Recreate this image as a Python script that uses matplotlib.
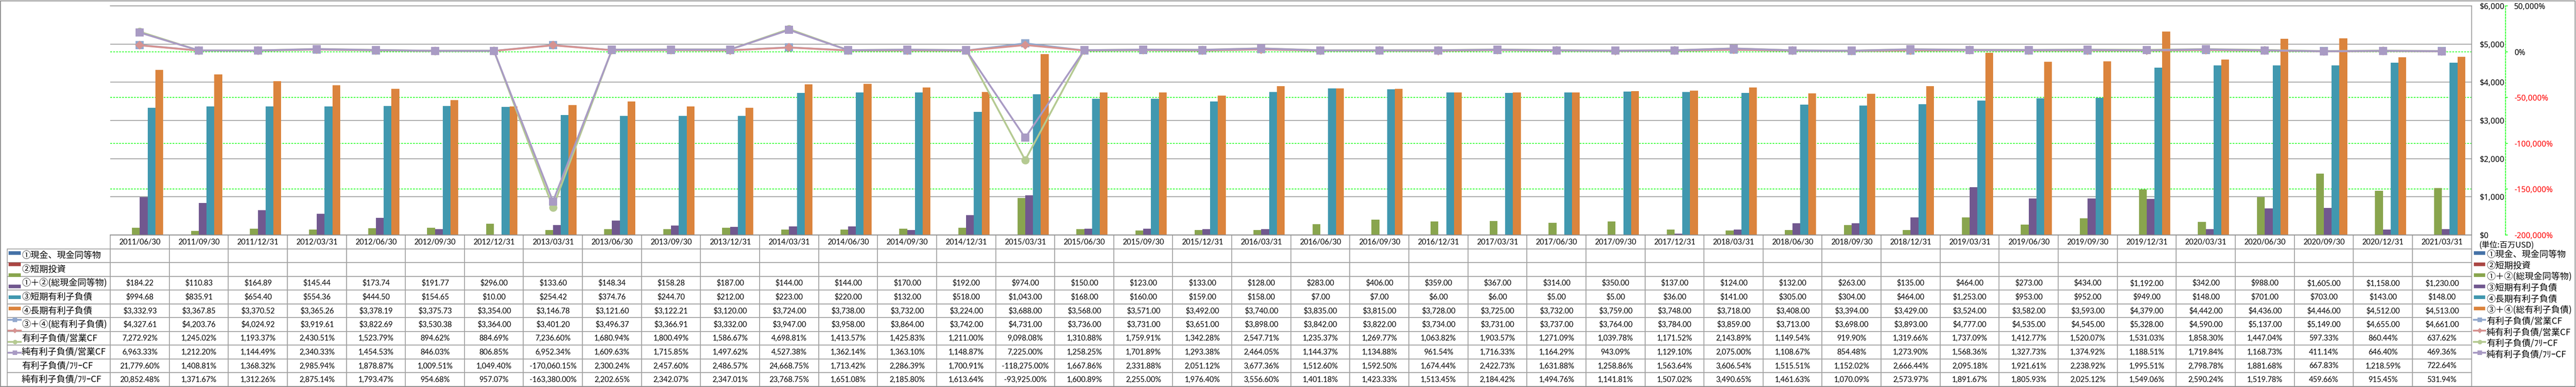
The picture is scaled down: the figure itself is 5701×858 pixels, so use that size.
import numpy as np
import matplotlib.pyplot as plt
from matplotlib.lines import Line2D
from matplotlib.patches import Rectangle
from matplotlib.ticker import FixedLocator, FuncFormatter

plt.rcParams['font.family'] = ['Lato', 'Noto Sans CJK JP', 'DejaVu Sans']

# quarter end dates (categories)
dates = ['2011/06/30', '2011/09/30', '2011/12/31', '2012/03/31', '2012/06/30', '2012/09/30',
         '2012/12/31', '2013/03/31', '2013/06/30', '2013/09/30', '2013/12/31', '2014/03/31',
         '2014/06/30', '2014/09/30', '2014/12/31', '2015/03/31', '2015/06/30', '2015/09/30',
         '2015/12/31', '2016/03/31', '2016/06/30', '2016/09/30', '2016/12/31', '2017/03/31',
         '2017/06/30', '2017/09/30', '2017/12/31', '2018/03/31', '2018/06/30', '2018/09/30',
         '2018/12/31', '2019/03/31', '2019/06/30', '2019/09/30', '2019/12/31', '2020/03/31',
         '2020/06/30', '2020/09/30', '2020/12/31', '2021/03/31']

names = ['①現金、現金同等物', '②短期投資', '①＋②(総現金同等物)', '③短期有利子負債',
         '④長期有利子負債', '③＋④(総有利子負債)', '有利子負債/営業CF', '純有利子負債/営業CF',
         '有利子負債/ﾌﾘｰCF', '純有利子負債/ﾌﾘｰCF']

# bars, million USD (series 1 and 2 have no values)
cash = [None] * 40
short_inv = [None] * 40
total_cash = [184.22, 110.83, 164.89, 145.44, 173.74, 191.77, 296.00, 133.60, 148.34, 158.28,
              187.00, 144.00, 144.00, 170.00, 192.00, 974.00, 150.00, 123.00, 133.00, 128.00,
              283.00, 406.00, 359.00, 367.00, 314.00, 350.00, 137.00, 124.00, 132.00, 263.00,
              135.00, 464.00, 273.00, 434.00, 1192.00, 342.00, 988.00, 1605.00, 1158.00, 1230.00]
short_debt = [994.68, 835.91, 654.40, 554.36, 444.50, 154.65, 10.00, 254.42, 374.76, 244.70,
              212.00, 223.00, 220.00, 132.00, 518.00, 1043.00, 168.00, 160.00, 159.00, 158.00,
              7.00, 7.00, 6.00, 6.00, 5.00, 5.00, 36.00, 141.00, 305.00, 304.00,
              464.00, 1253.00, 953.00, 952.00, 949.00, 148.00, 701.00, 703.00, 143.00, 148.00]
long_debt = [3332.93, 3367.85, 3370.52, 3365.26, 3378.19, 3375.73, 3354.00, 3146.78, 3121.60, 3122.21,
             3120.00, 3724.00, 3738.00, 3732.00, 3224.00, 3688.00, 3568.00, 3571.00, 3492.00, 3740.00,
             3835.00, 3815.00, 3728.00, 3725.00, 3732.00, 3759.00, 3748.00, 3718.00, 3408.00, 3394.00,
             3429.00, 3524.00, 3582.00, 3593.00, 4379.00, 4442.00, 4436.00, 4446.00, 4512.00, 4513.00]
total_debt = [4327.61, 4203.76, 4024.92, 3919.61, 3822.69, 3530.38, 3364.00, 3401.20, 3496.37, 3366.91,
              3332.00, 3947.00, 3958.00, 3864.00, 3742.00, 4731.00, 3736.00, 3731.00, 3651.00, 3898.00,
              3842.00, 3822.00, 3734.00, 3731.00, 3737.00, 3764.00, 3784.00, 3859.00, 3713.00, 3698.00,
              3893.00, 4777.00, 4535.00, 4545.00, 5328.00, 4590.00, 5137.00, 5149.00, 4655.00, 4661.00]

# lines, percent
debt_ocf = [7272.92, 1245.02, 1193.37, 2430.51, 1523.79, 894.62, 884.69, 7236.60, 1680.94, 1800.49,
            1586.67, 4698.81, 1413.57, 1425.83, 1211.00, 9098.08, 1310.88, 1759.91, 1342.28, 2547.71,
            1235.37, 1269.77, 1063.82, 1903.57, 1271.09, 1039.78, 1171.52, 2143.89, 1149.54, 919.90,
            1319.66, 1737.09, 1412.77, 1520.07, 1531.03, 1858.30, 1447.04, 597.33, 860.44, 637.62]
net_ocf = [6963.33, 1212.20, 1144.49, 2340.33, 1454.53, 846.03, 806.85, 6952.34, 1609.63, 1715.85,
           1497.62, 4527.38, 1362.14, 1363.10, 1148.87, 7225.00, 1258.25, 1701.89, 1293.38, 2464.05,
           1144.37, 1134.88, 961.54, 1716.33, 1164.29, 943.09, 1129.10, 2075.00, 1108.67, 854.48,
           1273.90, 1568.36, 1327.73, 1374.92, 1188.51, 1719.84, 1168.73, 411.14, 646.40, 469.36]
debt_fcf = [21779.60, 1408.81, 1368.32, 2985.94, 1878.87, 1009.51, 1049.40, -170060.15, 2300.24, 2457.60,
            2486.57, 24668.75, 1713.42, 2286.39, 1700.91, -118275.00, 1667.86, 2331.88, 2051.12, 3677.36,
            1512.60, 1592.50, 1674.44, 2422.73, 1631.88, 1258.86, 1563.64, 3606.54, 1515.51, 1152.02,
            2666.44, 2095.18, 1921.61, 2238.92, 1995.51, 2798.78, 1881.68, 667.83, 1218.59, 722.64]
net_fcf = [20852.48, 1371.67, 1312.26, 2875.14, 1793.47, 954.68, 957.07, -163380.00, 2202.65, 2342.07,
           2347.01, 23768.75, 1651.08, 2185.80, 1613.64, -93925.00, 1600.89, 2255.00, 1976.40, 3556.60,
           1401.18, 1423.33, 1513.45, 2184.42, 1494.76, 1141.81, 1507.02, 3490.65, 1461.63, 1070.09,
           2573.97, 1891.67, 1805.93, 2025.12, 1549.06, 2590.24, 1519.78, 459.66, 915.45, 531.94]

bar_series = [cash, short_inv, total_cash, short_debt, long_debt, total_debt]
line_series = [debt_ocf, net_ocf, debt_fcf, net_fcf]
bar_colors = ['#4572a7', '#aa4643', '#89a54e', '#71588f', '#4198af', '#db843d']
line_colors = ['#92a8cd', '#d69391', '#b5ca92', '#a99bc4']
line_markers = ['s', 'D', 'o', 's']
line_ms = [13, 10, 13, 13]

# layout in pixels
W, H = 5701, 858
px_left, px_right, px_top, px_bottom = 244, 5469.5, 13, 521
px_table_bottom = 857
px_label_left = 16

fig = plt.figure(figsize=(W / 100, H / 100), dpi=100)
ax = fig.add_axes([px_left / W, 1 - px_bottom / H, (px_right - px_left) / W, (px_bottom - px_top) / H])
ax2 = ax.twinx()

ax_w = px_right - px_left
ax_h = px_bottom - px_top
gray = '#8c8c8c'
lime = '#00ff00'
dash = (0, (2.6, 1.7))

x = np.arange(len(dates))
w = 0.132
for i, (vals, c) in enumerate(zip(bar_series, bar_colors)):
    v = np.array([np.nan if a is None else a for a in vals], dtype=float)
    ax.bar(x + (i - 2.5) * w, v, width=w, color=c, zorder=2)

for vals, c, m, ms in zip(line_series, line_colors, line_markers, line_ms):
    ax2.plot(x, vals, color=c, lw=2.9, marker=m, ms=ms, mew=0, zorder=3)

# primary $ axis
p_min, p_max = 0, 6000
ax.set_xlim(-0.5, len(dates) - 0.5)
ax.set_ylim(p_min, p_max)
ax.set_yticks(np.arange(0, 6001, 1000))
ax.yaxis.set_major_formatter(FuncFormatter(lambda v, p: '${:,.0f}'.format(v)))
ax.yaxis.set_ticks_position('right')
ax.tick_params(axis='y', which='major', length=0, pad=13.3, labelsize=12.6, labelfontfamily='Noto Sans')
ax.tick_params(axis='x', length=0, labelbottom=False)
ax.set_axisbelow(True)
ax.grid(axis='y', which='major', color=gray, lw=1.1)
ax.spines['left'].set_visible(False)
for s in ['top', 'right', 'bottom']:
    ax.spines[s].set_color(gray)
    ax.spines[s].set_linewidth(1.1)

# secondary % axis
s_min, s_max = -200000, 50000
sec_ticks = np.arange(s_min, s_max + 1, 50000)
ax2.set_ylim(s_min, s_max)
ax2.set_yticks(sec_ticks)
ax2.yaxis.set_major_formatter(FuncFormatter(lambda v, p: '{:,.0f}%'.format(v)))
ax2.tick_params(axis='y', direction='out', length=3.6, width=1.1, color=lime, pad=10,
                labelsize=12.6, labelfontfamily='Noto Sans')
for s in ['left', 'top', 'bottom']:
    ax2.spines[s].set_visible(False)
ax2.spines['right'].set_position(('outward', (5545 - px_right) * 0.72))
ax2.spines['right'].set_color(lime)
ax2.spines['right'].set_linestyle(dash)
ax2.spines['right'].set_linewidth(1.1)
for tick, v in zip(ax2.yaxis.get_major_ticks(), sec_ticks):
    tick.label2.set_color('#ff0000' if v < 0 else 'black')

# secondary grid drawn on primary axes so it stays behind the bars
minor = [(s - s_min) / (s_max - s_min) * (p_max - p_min) + p_min for s in sec_ticks[1:-1]]
ax.yaxis.set_minor_locator(FixedLocator(minor))
ax.tick_params(axis='y', which='minor', length=0)
ax.grid(axis='y', which='minor', color=lime, lw=1.1, linestyle=dash)

# data table (first column holds the series names)
def fmt(vals, kind):
    out = []
    for v in vals:
        if v is None:
            out.append('')
        elif kind == '$':
            out.append('${:,.2f}'.format(v))
        else:
            out.append('{:,.2f}%'.format(v))
    return out

cell_text = [fmt(s, '$') for s in bar_series] + [fmt(s, '%') for s in line_series]
cell_text = [[n] + row for n, row in zip(names, cell_text)]
lab_w = (px_left - px_label_left) / ax_w
tab_h = (px_table_bottom - px_bottom) / ax_h
n_rows = len(cell_text) + 1
tbl = ax.table(cellText=cell_text, colLabels=[''] + dates,
               colWidths=[lab_w] + [1 / len(dates)] * len(dates),
               cellLoc='center', colLoc='center',
               bbox=[-lab_w, -tab_h, 1 + lab_w, tab_h])
tbl.auto_set_font_size(False)
tbl.set_fontsize(12)
for (r, c), cell in tbl.get_celld().items():
    cell.set_edgecolor('#a0a0a0')
    cell.set_linewidth(1.3)
    t = cell.get_text()
    if c == 0:
        if r == 0:
            cell.visible_edges = 'open'
        cell.PAD = (48 - px_label_left) / (px_left - px_label_left)
        t.set_horizontalalignment('left')
        t.set_fontfamily(['Noto Sans CJK JP', 'DejaVu Sans'])
        t.set_fontsize(14)
    else:
        t.set_fontfamily(['Lato', 'DejaVu Sans'])

# legend keys (in table label column and to the right)
fs_leg = 14
fs_px = fs_leg * 100 / 72
row_px = (px_table_bottom - px_bottom) / n_rows
handles = []
for c in bar_colors:
    handles.append(Line2D([], [], color=c, lw=8 * 0.72, solid_capstyle='butt'))
key_ms = [7.2, 6.1, 7.2, 7.2]
for c, m, ms in zip(line_colors, line_markers, key_ms):
    handles.append(Line2D([], [], color=c, lw=2.9, marker=m, ms=ms, mew=0))

row_top = -tab_h / n_rows
key_leg = ax.legend(handles, [''] * len(handles), loc='upper left',
                    bbox_to_anchor=((19 - px_left) / ax_w, row_top), bbox_transform=ax.transAxes,
                    frameon=False, borderpad=0, borderaxespad=0, labelspacing=0,
                    handlelength=27 / fs_px, handleheight=row_px / fs_px,
                    handletextpad=0, fontsize=fs_leg)
ax.add_artist(key_leg)
ax.legend(handles, names, loc='upper left',
          bbox_to_anchor=((5475 - px_left) / ax_w, row_top), bbox_transform=ax.transAxes,
          frameon=False, borderpad=0, borderaxespad=0, labelspacing=0,
          handlelength=25 / fs_px, handleheight=row_px / fs_px,
          handletextpad=3 / fs_px,
          prop={'family': ['Noto Sans CJK JP', 'DejaVu Sans'], 'size': fs_leg})

ax.text((5486 - px_left) / ax_w, (px_bottom - 543) / ax_h, '(単位:百万USD)', transform=ax.transAxes,
        ha='left', va='center', fontsize=12.6, family=['Noto Sans CJK JP', 'DejaVu Sans'])

fig.add_artist(Rectangle((1 / W, 1 / H), 1 - 3 / W, 1 - 3 / H, transform=fig.transFigure,
                         fill=False, ec=gray, lw=1.4))

plt.savefig('out.png', dpi=100)
